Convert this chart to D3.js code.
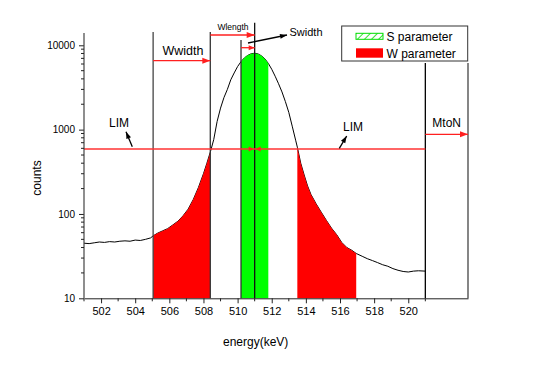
<!DOCTYPE html>
<html>
<head>
<meta charset="utf-8">
<script src="https://cdn.jsdelivr.net/npm/d3@7"></script>
<style>
body { margin: 0; background: #fff; }
text { font-family: "Liberation Sans", Arial, sans-serif; }
</style>
</head>
<body>
<div id="chart"></div>
<script>
// spectrum
const energy = [501.0, 501.3, 501.6, 501.9, 502.2, 502.5, 502.8, 503.1, 503.4, 503.7, 504.0, 504.3, 504.6, 504.9,
  505.05, 505.3, 505.6, 505.9, 506.2, 506.5, 506.8, 507.1, 507.4, 507.7, 508.0, 508.2, 508.4, 508.6, 508.8,
  509.0, 509.2, 509.4, 509.6, 509.8, 510.0, 510.2, 510.4, 510.6, 510.8, 511.0, 511.2, 511.4, 511.6, 511.8,
  512.0, 512.2, 512.4, 512.6, 512.8, 513.0, 513.2, 513.4, 513.5, 513.7, 513.9, 514.1, 514.3, 514.6, 514.9,
  515.2, 515.5, 515.8, 516.1, 516.4, 516.7, 516.95, 517.3, 517.6, 517.9, 518.2, 518.5, 518.8, 519.1, 519.4,
  519.7, 520.0, 520.3, 520.6, 521.0];
const counts = [45, 44.5, 45.5, 46.5, 46, 47, 46.5, 47.5, 48, 47.5, 49, 48.5, 50, 52,
  55, 59, 63, 67, 74, 82, 95, 114, 148, 205, 300, 400, 540, 760, 1250,
  1800, 2400, 3000, 3900, 4700, 5600, 6400, 7100, 7600, 7950, 8050, 7900, 7500, 6900, 6100,
  5200, 4300, 3500, 2800, 2150, 1600, 1100, 750, 620, 400, 290, 215, 170, 132, 105,
  84, 68, 57, 46, 40, 37, 34, 31.5, 29.5, 28, 26.5, 25, 24, 22.5, 21.5,
  20.8, 20.5, 21, 21.2, 21];

const xTicks = [502, 504, 506, 508, 510, 512, 514, 516, 518, 520];
const yTicks = [10, 100, 1000, 10000];

const sRange = [510.2, 511.8];
const wLeftRange = [505.05, 508.4];
const wRightRange = [513.5, 516.95];
const peakCenter = 511.0;
const mtonStart = 521;
const limLevel = 590;
const legendLabels = ['S parameter', 'W parameter'];

const width = 547, height = 366;
const svg = d3.select('#chart').append('svg')
  .attr('width', width)
  .attr('height', height);

const x = d3.scaleLinear().domain([501, 523.5]).range([84, 468]);
const y = d3.scaleLog().domain([10, 10000]).range([298.3, 45.3]);

const pts = energy.map((e, i) => ({ e: e, c: counts[i] }));
const inRange = (r) => pts.filter(d => d.e >= r[0] - 1e-9 && d.e <= r[1] + 1e-9);

// curve
const line = d3.line().x(d => x(d.e)).y(d => y(d.c));
svg.append('path')
  .datum(pts)
  .attr('d', line)
  .attr('fill', 'none')
  .attr('stroke', '#000')
  .attr('stroke-width', 1);

// filled regions
const area = d3.area().x(d => x(d.e)).y0(y(10)).y1(d => y(d.c));
[wLeftRange, wRightRange].forEach(r => {
  svg.append('path').datum(inRange(r)).attr('d', area).attr('fill', '#ff0000');
});
svg.append('path').datum(inRange(sRange)).attr('d', area).attr('fill', '#00ff00');

// vertical markers
const vline = (xv, top, color) => svg.append('line')
  .attr('x1', xv).attr('x2', xv).attr('y1', top).attr('y2', y(10))
  .attr('stroke', color).attr('stroke-width', 1.3);
vline(x(wLeftRange[0]), 32, '#444');
vline(x(wLeftRange[1]), 32, '#333');
vline(x(sRange[0]), 40, '#333');
vline(x(peakCenter), 22.7, '#111');
vline(x(mtonStart), 63, '#000');
vline(x.range()[1], 63, '#444');

// arrows
function arrow(x1, y1, x2, y2, color, len, half) {
  svg.append('line')
    .attr('x1', x1).attr('y1', y1).attr('x2', x2).attr('y2', y2)
    .attr('stroke', color).attr('stroke-width', 1.3);
  const a = Math.atan2(y2 - y1, x2 - x1);
  const bx = x2 - len * Math.cos(a), by = y2 - len * Math.sin(a);
  const px = -Math.sin(a) * half, py = Math.cos(a) * half;
  svg.append('path')
    .attr('d', `M${x2},${y2}L${bx + px},${by + py}L${bx - px},${by - py}Z`)
    .attr('fill', color);
}

const red = '#ff2020';
const limY = y(limLevel);

svg.append('line')
  .attr('x1', x(501)).attr('x2', x(mtonStart))
  .attr('y1', limY).attr('y2', limY)
  .attr('stroke', '#ff3333').attr('stroke-width', 1.5);

// little bow-tie on LIM line at the peak centre
const xc = x(peakCenter);
svg.append('path').attr('d', `M${xc - 6},${limY - 2.5}L${xc - 1},${limY}L${xc - 6},${limY + 2.5}Z`).attr('fill', red);
svg.append('path').attr('d', `M${xc + 6},${limY - 2.5}L${xc + 1},${limY}L${xc + 6},${limY + 2.5}Z`).attr('fill', red);

arrow(x(wLeftRange[0]), 60.7, x(wLeftRange[1]), 60.7, red, 8, 3);
arrow(x(wLeftRange[1]), 35, x(peakCenter), 35, red, 8, 3);
arrow(x(sRange[0]), 47.7, x(peakCenter), 47.7, red, 6, 2.5);
arrow(x(mtonStart), 134.3, x.range()[1], 134.3, red, 8, 3);

arrow(248, 43, 287, 35, '#000', 7, 2.5);
arrow(132.3, 146.7, 126, 131.7, '#000', 7, 2.5);
arrow(339.3, 148.3, 346.7, 136, '#000', 7, 2.5);

// annotation text
const label = (tx, ty, s, size, anchor) => svg.append('text')
  .attr('x', tx).attr('y', ty)
  .attr('text-anchor', anchor || 'middle')
  .attr('font-size', size)
  .attr('fill', '#000')
  .text(s);
label(183, 55, 'Wwidth', 12.5);
label(233, 29.5, 'Wlength', 8.5);
label(306, 35.5, 'Swidth', 11);
label(119, 127, 'LIM', 12);
label(353, 131, 'LIM', 12);
label(446.7, 127, 'MtoN', 12);

// axes
const xAxis = svg.append('g')
  .attr('transform', `translate(0,${y(10)})`)
  .call(d3.axisBottom(x).tickValues(xTicks).tickSize(5).tickSizeOuter(0).tickPadding(4));
xAxis.selectAll('text').attr('font-size', 11).attr('font-family', '"Liberation Sans", Arial, sans-serif').attr('fill', '#000');
xAxis.select('.domain').attr('stroke', '#222');
xAxis.selectAll('.tick line').attr('stroke', '#222');
xAxis.selectAll('.minor')
  .data(d3.range(501, 522, 2))
  .enter().append('line')
  .attr('x1', d => x(d)).attr('x2', d => x(d))
  .attr('y1', 0).attr('y2', 3)
  .attr('stroke', '#222');

const minorY = [];
[10, 100, 1000].forEach(dec => { for (let k = 2; k <= 9; k++) minorY.push(dec * k); });
const yAxis = svg.append('g')
  .attr('transform', `translate(${x(501)},0)`)
  .call(d3.axisLeft(y).tickValues(yTicks).tickFormat(d3.format('d')).tickSize(5).tickPadding(4));
yAxis.select('.domain').remove();
yAxis.selectAll('text').attr('font-size', 10).attr('font-family', '"Liberation Sans", Arial, sans-serif').attr('fill', '#000');
yAxis.selectAll('.tick line').attr('stroke', '#222');
yAxis.append('line')
  .attr('x1', 0).attr('x2', 0)
  .attr('y1', y(10)).attr('y2', y(14000))
  .attr('stroke', '#444').attr('stroke-width', 1.2);
yAxis.selectAll('.minor')
  .data(minorY)
  .enter().append('line')
  .attr('x1', -3).attr('x2', 0)
  .attr('y1', d => y(d)).attr('y2', d => y(d))
  .attr('stroke', '#222');

svg.append('text')
  .attr('x', 255.7).attr('y', 346)
  .attr('text-anchor', 'middle')
  .attr('font-size', 12)
  .text('energy(keV)');
svg.append('text')
  .attr('transform', 'translate(41,178) rotate(-90)')
  .attr('text-anchor', 'middle')
  .attr('font-size', 12)
  .text('counts');

// legend
const defs = svg.append('defs');
const pat = defs.append('pattern')
  .attr('id', 'hatch')
  .attr('patternUnits', 'userSpaceOnUse')
  .attr('width', 5).attr('height', 5)
  .attr('patternTransform', 'rotate(45)');
pat.append('rect').attr('width', 5).attr('height', 5).attr('fill', '#fff');
pat.append('line').attr('x1', 0).attr('x2', 0).attr('y1', 0).attr('y2', 5)
  .attr('stroke', '#00dd00').attr('stroke-width', 1.6);

const lg = svg.append('g');
lg.append('rect')
  .attr('x', 341.7).attr('y', 26).attr('width', 126).attr('height', 35)
  .attr('fill', '#fff').attr('stroke', '#333').attr('stroke-width', 1);
lg.append('rect')
  .attr('x', 356).attr('y', 33.3).attr('width', 27).attr('height', 6)
  .attr('fill', 'url(#hatch)').attr('stroke', '#00dd00').attr('stroke-width', 1);
lg.append('rect')
  .attr('x', 356).attr('y', 48.3).attr('width', 27).attr('height', 9.4)
  .attr('fill', '#ff0000');
lg.selectAll('.lt')
  .data(legendLabels)
  .enter().append('text')
  .attr('x', 386.5)
  .attr('y', (d, i) => 41 + i * 16.5)
  .attr('font-size', 12)
  .text(d => d);
</script>
</body>
</html>
